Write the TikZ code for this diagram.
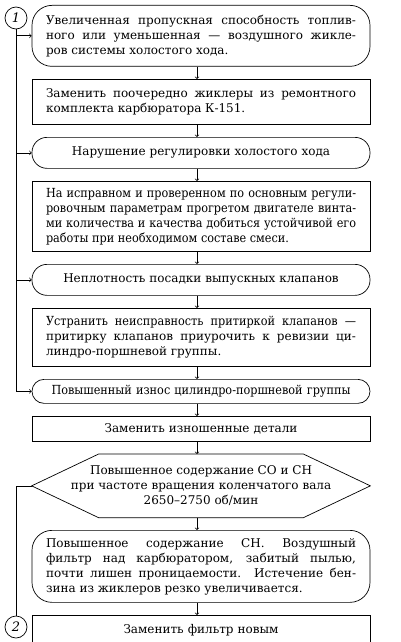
\documentclass[tikz,border=0pt]{standalone}
\usepackage{fontspec}
\setmainfont{DejaVu Serif}
\newfontfamily\condfont{DejaVu Serif Condensed}
\usepackage{tikz}
\usetikzlibrary{arrows}
\usetikzlibrary{positioning}

\begin{document}
\begin{tikzpicture}[
            x=1pt, y=-1pt,
            every node/.style={font=\fontsize{12}{15}\selectfont, inner sep=0pt},
            every path/.style={line width=0.7pt},
            cause/.style={draw, rounded corners=15pt, text width=310pt, minimum width=338pt, align=justify},
            action/.style={draw, text width=310pt, minimum width=338pt, align=justify},
            num/.style={draw, circle, minimum size=22pt, font=\itshape\fontsize{13}{14}\selectfont},
            line/.style={draw, -to},
            node distance=12.3pt
        ]
            \useasboundingbox (0,0) rectangle (400,642);
            % left column of fault causes
            \node [cause, rounded corners=20pt, minimum height=61pt, anchor=north] (b1) at (201,5)
                {Увеличенная пропускная способность топлив-\linebreak ного или уменьшенная — воздушного жикле-\linebreak ров системы холостого хода.};
            \node [action, minimum height=45pt, below=of b1] (b2)
                {Заменить поочередно жиклеры из ремонтного\linebreak комплекта карбюратора К-151.};
            \node [cause, align=center, minimum height=31pt, below=of b2] (b3)
                {Нарушение регулировки холостого хода};
            \node [action, minimum height=70pt, below=of b3, font=\condfont\fontsize{12.5}{15}\selectfont] (b4)
                {На исправном и проверенном по основным регули-\linebreak ровочным параметрам прогретом двигателе винта-\linebreak ми количества и качества добиться устойчивой его\linebreak работы при необходимом составе смеси.};
            \node [cause, align=center, minimum height=31pt, below=of b4] (b5)
                {Неплотность посадки выпускных клапанов};
            \node [action, minimum height=58pt, below=of b5] (b6)
                {{\condfont\fontsize{12.5}{15}\selectfont Устранить неисправность притиркой клапанов —}\linebreak притирку клапанов приурочить к ревизии ци-\linebreak линдро-поршневой группы.};
            \node [cause, rounded corners=12pt, align=center, minimum height=24pt, below=of b6, font=\condfont\fontsize{12.5}{15}\selectfont] (b7)
                {Повышенный износ цилиндро-поршневой группы};
            \node [action, align=center, minimum height=25pt, below=of b7] (b8)
                {Заменить изношенные детали};
            % hexagon
            \node [align=center, minimum width=338pt, minimum height=63pt, below=of b8] (hx)
                {Повышенное содержание СО и СН\\ при частоте вращения коленчатого вала\\ 2650–2750 об/мин};
            \draw (hx.west) -- ([xshift=67pt]hx.north west) -- ([xshift=-67pt]hx.north east) -- (hx.east)
                -- ([xshift=-67pt]hx.south east) -- ([xshift=67pt]hx.south west) -- cycle;
            \node [cause, rounded corners=20pt, minimum height=72pt, below=of hx] (b10)
                {Повышенное содержание СН. Воздушный\linebreak фильтр над карбюратором, забитый пылью,\linebreak почти лишен проницаемости. Истечение бен-\linebreak зина из жиклеров резко увеличивается.};
            \node [action, align=center, minimum height=30pt, below=of b10] (b11)
                {Заменить фильтр новым};
            % entry marks
            \node [num] (n1) at (16,18) {1};
            \node [num] (n2) at (16,627) {2};
            \foreach \a/\b in {b1/b2, b2/b3, b3/b4, b4/b5, b5/b6, b6/b7, b7/b8, b8/hx, hx/b10, b10/b11}
                \path [line] ([xshift=-4pt]\a.south) -- ([xshift=-4pt]\b.north);
            \path [line] (n1.south) |- (b7.west);
            \foreach \b in {b1, b3, b5}
                \path [line] (n1.south |- \b.west) -- (\b.west);
            \draw (n2.north) |- (hx.west);
        \end{tikzpicture}
\end{document}
